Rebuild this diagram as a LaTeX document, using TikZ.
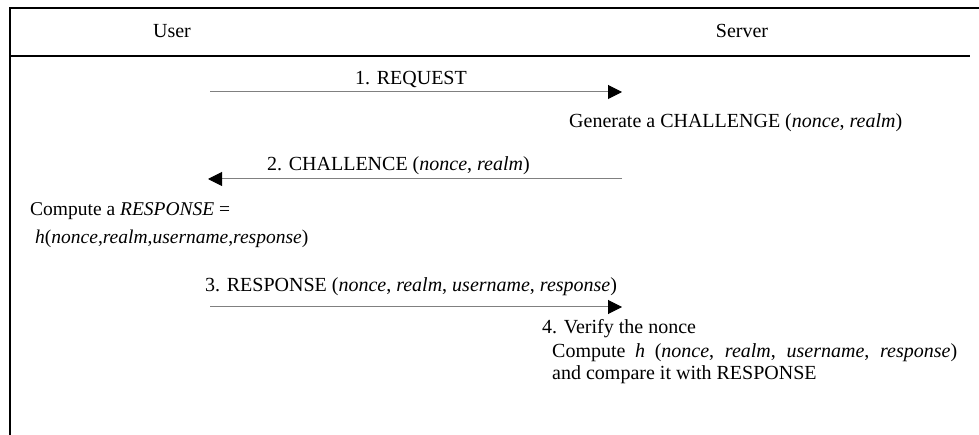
\documentclass[tikz,border=0pt]{standalone}
\usepackage{fontspec}
\setmainfont{Liberation Serif}
\usetikzlibrary{arrows.meta}
\begin{document}
\begin{tikzpicture}[x=1pt,y=-1pt,
  frame/.style={line width=2pt,black},
  msg/.style={draw=black!50,line width=1pt,-{Triangle[length=14pt,width=14pt,black]}},
  txt/.style={inner sep=0pt,anchor=base west,font=\fontsize{20}{24}\selectfont},
  ctxt/.style={inner sep=0pt,anchor=base,font=\fontsize{20}{24}\selectfont}]
\useasboundingbox (0,0) rectangle (979,435);
% frame
\coordinate (tl) at (10,8);
\coordinate (tr) at (979,8);
\coordinate (ml) at (10,56);
\coordinate (mr) at (970,56);
\coordinate (bl) at (10,436);
\draw[frame] (tr) -- (tl) -- (bl);
\draw[frame] (ml) -- (mr);
% headers
\node[ctxt] (user) at (172,38) {User};
\node[ctxt] (server) at (742,38) {Server};
% message 1
\coordinate (m1s) at (210,92);
\coordinate (m1e) at (622,92);
\draw[msg] (m1s) -- (m1e);
\node[ctxt] (l1) at (411,85) {1. REQUEST};
\node[txt] (gen) at (569,128) {Generate a CHALLENGE (\textit{nonce}, \textit{realm})};
% message 2
\coordinate (m2s) at (622,179);
\coordinate (m2e) at (208,179);
\draw[msg] (m2s) -- (m2e);
\node[txt] (l2) at (267,171) {2. CHALLENCE (\textit{nonce}, \textit{realm})};
\node[txt,font=\fontsize{19.5}{24}\selectfont] (comp1) at (30,216) {Compute a \textit{RESPONSE} =};
\node[txt,font=\fontsize{19.5}{24}\selectfont] (comp2) at (35,244) {\textit{h}(\textit{nonce},\textit{realm},\textit{username},\textit{response})};
% message 3
\coordinate (m3s) at (210,307);
\coordinate (m3e) at (622,307);
\draw[msg] (m3s) -- (m3e);
\node[txt] (l3) at (205,292) {3. RESPONSE (\textit{nonce}, \textit{realm}, \textit{username}, \textit{response})};
% step 4
\node[txt] (v1) at (542,334) {4. Verify the nonce};
\node[txt] (v2) at (552,357) {\makebox[405pt][s]{Compute \textit{h} (\textit{nonce}, \textit{realm}, \textit{username}, \textit{response})}};
\node[txt] (v3) at (552,379) {and compare it with RESPONSE};
\end{tikzpicture}
\end{document}
